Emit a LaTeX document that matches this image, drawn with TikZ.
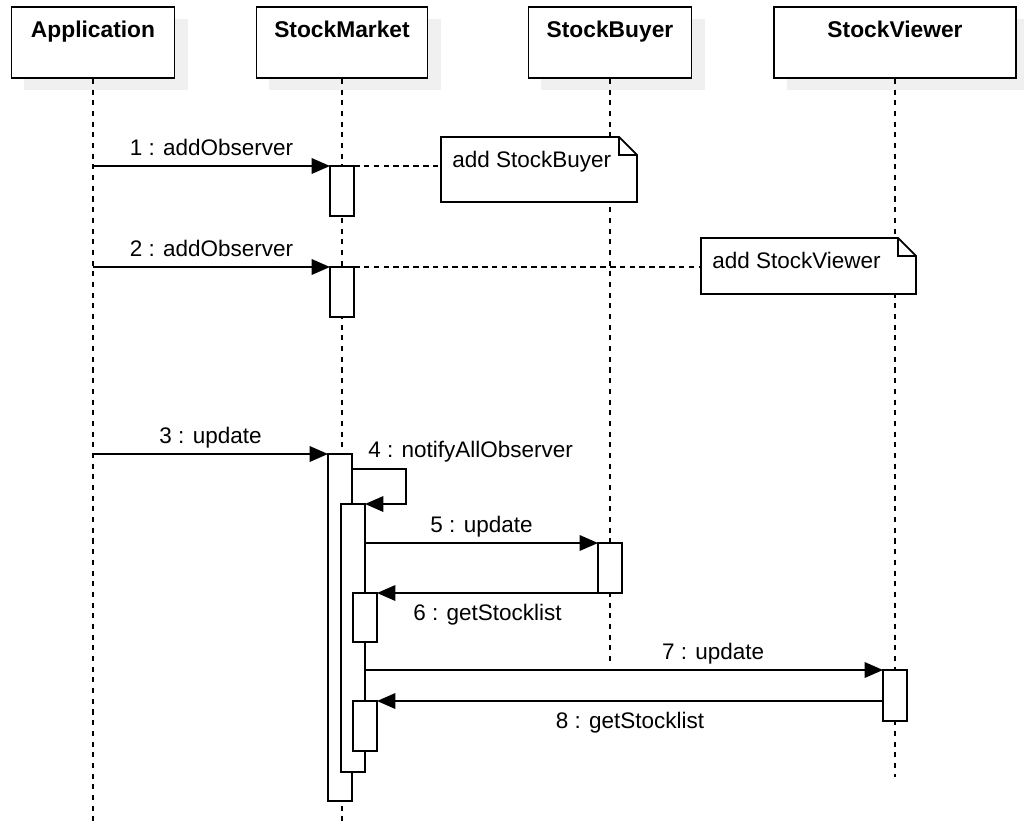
\documentclass[tikz,border=0pt]{standalone}
\usepackage{fontspec}
\setmainfont{Liberation Sans}
\usetikzlibrary{arrows.meta,shadows}
\tikzset{
  head/.style={draw,fill=white,line width=1.3pt,inner sep=0pt,minimum height=1.775cm,
    drop shadow={shadow xshift=0.325cm,shadow yshift=-0.3cm,fill=black!6,opacity=1},
    label={[font=\fontsize{16.2}{19}\selectfont\bfseries,anchor=base,inner sep=0pt,yshift=-0.775cm]north:#1}},
  life/.style={line width=1pt,dash pattern=on 3.6pt off 4pt},
  act/.style={draw,fill=white,line width=1.3pt,inner sep=0pt,outer sep=0pt,
    minimum width=0.6cm,anchor=north},
  note/.style={fill=white,inner sep=0pt,outer sep=0pt,anchor=north west,
    label={[anchor=base west,inner sep=0pt,xshift=0.275cm,yshift=-0.75cm]north west:#1}},
  msg/.style={->,line width=1.2pt},
  link/.style={line width=1pt,dash pattern=on 4pt off 3pt},
  lbl/.style={inner sep=0pt,text depth=0pt}
}
\newcommand{\dogear}[1]{%
  \draw[line width=1.3pt] (#1.north west) -- ([xshift=-0.45cm]#1.north east)
    -- ([yshift=-0.45cm]#1.north east) -- (#1.south east) -- (#1.south west) -- cycle;
  \draw[line width=1.3pt] ([xshift=-0.45cm]#1.north east) |- ([yshift=-0.45cm]#1.north east);}
\begin{document}
\begin{tikzpicture}[x=0.025cm,y=-0.025cm,>={Triangle[length=13pt,width=11pt]},
  font=\fontsize{16}{19}\selectfont]
\useasboundingbox (0,0) rectangle (1024,823);
% participants
\node[head=Application,minimum width=4.075cm] (app) at (93,42.5) {};
\node[head=StockMarket,minimum width=4.275cm] (market) at (342,42.5) {};
\node[head=StockBuyer,minimum width=4.075cm] (buyer) at (610,42.5) {};
\node[head=StockViewer,minimum width=6.05cm] (viewer) at (895,42.5) {};
\draw[life] (app.south) -- (93,823);
\draw[life] (market.south) -- (342,823);
\draw[life] (buyer.south) -- (610,666);
\draw[life] (viewer.south) -- (895,777);
% notes
\node[note=add StockBuyer,minimum width=4.9cm,minimum height=1.625cm] (n1) at (441,137) {};
\dogear{n1}
\node[note=add StockViewer,minimum width=5.375cm,minimum height=1.4cm] (n2) at (701,238) {};
\dogear{n2}
% activations
\node[act,minimum height=1.25cm] (act1) at (342,166) {};
\node[act,minimum height=1.25cm] (act2) at (342,267) {};
\node[act,minimum height=8.675cm] (act3) at (340,454) {};
\node[act,minimum height=6.7cm] (act4) at (353,504) {};
\node[act,minimum height=1.25cm] (act5) at (610,543) {};
\node[act,minimum height=1.225cm] (act6) at (365,593) {};
\node[act,minimum height=1.275cm] (act7) at (895,670) {};
\node[act,minimum height=1.25cm] (act8) at (365,701) {};
% messages
\draw[msg] (app.south |- act1.north) -- (act1.north west)
  node[lbl,midway,above=7pt] (l1) {1 : addObserver};
\draw[link] (act1.north east) -- (n1.west |- act1.north);
\draw[msg] (app.south |- act2.north) -- (act2.north west)
  node[lbl,midway,above=7pt] (l2) {2 : addObserver};
\draw[link] (act2.north east) -- (n2.west |- act2.north);
\draw[msg] (app.south |- act3.north) -- (act3.north west)
  node[lbl,midway,above=7pt] (l3) {3 : update};
\draw[msg] ([yshift=-0.375cm]act3.north east) -- ++(54,0) |- (act4.north east);
\node[lbl,anchor=base west] (l4) at ([xshift=0.4cm,yshift=-0.075cm]act3.north east) {4 : notifyAllObserver};
\draw[msg] (act4.east |- act5.north) -- (act5.north west)
  node[lbl,midway,above=7pt] (l5) {5 : update};
\draw[msg] (act5.south west) -- (act6.north east)
  node[lbl,midway,below=7.5pt] (l6) {6 : getStocklist};
\draw[msg] (act4.east |- act7.north) -- (act7.north west)
  node[lbl,pos=0.672,above=7pt] (l7) {7 : update};
\draw[msg] (act7.west |- act8.north) -- (act8.north east)
  node[lbl,midway,below=7.5pt] (l8) {8 : getStocklist};
\end{tikzpicture}
\end{document}
